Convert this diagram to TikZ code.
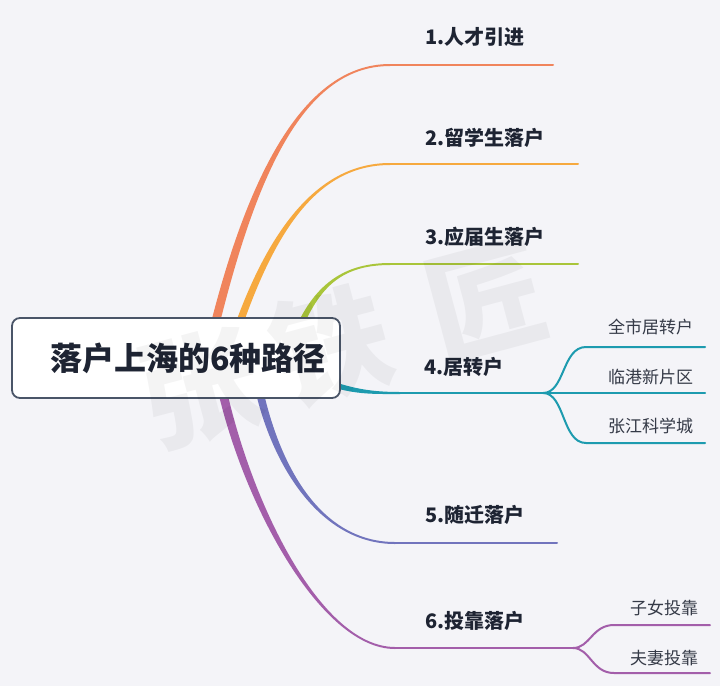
\documentclass[tikz,border=0pt]{standalone}
\usepackage{fontspec}
\setmainfont{Noto Sans CJK SC}
\usetikzlibrary{calc}

\definecolor{bgpaper}{HTML}{F4F4F8}
\definecolor{inkdark}{HTML}{1E2433}
\definecolor{boxline}{HTML}{4A5568}
\definecolor{cone}{HTML}{F0845C}
\definecolor{ctwo}{HTML}{F6A93F}
\definecolor{cthree}{HTML}{A9C53A}
\definecolor{cfour}{HTML}{1D9BAF}
\definecolor{cfive}{HTML}{7174BD}
\definecolor{csix}{HTML}{A35EAA}

% tapered limb: colour, start, control 1, control 2, knee, start half-width, knee half-width
\newcommand{\limb}[7]{%
  \fill[#1] ($#2+#6$) .. controls ($#3+#6$) and ($#4+#7$) .. ($#5+#7$)
    -- ($#5-#7$) .. controls ($#4-#7$) and ($#3-#6$) .. ($#2-#6$) -- cycle;}

\tikzset{
  rootbox/.style={draw=boxline, fill=white, line width=1.8pt, rounded corners=8pt,
    minimum width=328pt, minimum height=80pt, text=inkdark,
    font=\fontsize{32}{36}\selectfont\bfseries},
  toplabel/.style={anchor=west, inner sep=0pt, text=inkdark,
    font=\fontsize{20}{24}\selectfont\bfseries},
  sublabel/.style={anchor=west, inner sep=0pt, text=inkdark!90,
    font=\fontsize{17}{20}\selectfont},
  twig/.style={line width=2pt, line cap=round},
  stamp/.style={text=black, text opacity=0.045, rotate=15,
    font=\fontsize{118}{120}\selectfont\bfseries},
}

\begin{document}
\begin{tikzpicture}[x=1pt,y=-1pt]
  \fill[bgpaper] (0,0) rectangle (720,686);
  \useasboundingbox (0,0) rectangle (720,686);

  % knees and ends
  \coordinate (k1) at (390,65);  \coordinate (e1) at (553,65);
  \coordinate (k2) at (390,164); \coordinate (e2) at (578,164);
  \coordinate (k3) at (390,264); \coordinate (e3) at (578,264);
  \coordinate (k4) at (400,393); \coordinate (s4) at (543,393);
  \coordinate (k5) at (395,543); \coordinate (e5) at (557,543);
  \coordinate (k6) at (395,648); \coordinate (s6) at (573,648);

  % main limbs
  \limb{cone}{(210,345)}{(248,185)}{(300,65)}{(k1)}{(4.5,0)}{(0,1)}
  \limb{ctwo}{(232,345)}{(268,235)}{(315,164)}{(k2)}{(4,0)}{(0,1)}
  \limb{cthree}{(294,340)}{(314,288)}{(340,264)}{(k3)}{(3.5,0)}{(0,1)}
  \limb{cfour}{(320,380)}{(352,392)}{(372,393)}{(k4)}{(0,3)}{(0,1)}
  \limb{cfive}{(257,380)}{(274,465)}{(320,543)}{(k5)}{(4,0)}{(0,-1)}
  \limb{csix}{(220,380)}{(245,500)}{(320,648)}{(k6)}{(4.5,0)}{(0,-1)}

  \draw[twig,cone] (k1) -- (e1);
  \draw[twig,ctwo] (k2) -- (e2);
  \draw[twig,cthree] (k3) -- (e3);
  \draw[twig,cfour] (k4) -- (s4);
  \draw[twig,cfive] (k5) -- (e5);
  \draw[twig,csix] (k6) -- (s6);

  % level one labels
  \node[toplabel] (l1) at (425,37) {1.人才引进};
  \node[toplabel] (l2) at (425,138) {2.留学生落户};
  \node[toplabel] (l3) at (425,237) {3.应届生落户};
  \node[toplabel] (l4) at (424,367) {4.居转户};
  \node[toplabel] (l5) at (425,515) {5.随迁落户};
  \node[toplabel] (l6) at (425,621) {6.投靠落户};

  % sub branches of 4
  \node[sublabel] (m41) at (608,327) {全市居转户};
  \node[sublabel] (m42) at (608,377) {临港新片区};
  \node[sublabel] (m43) at (608,426) {张江科学城};
  \coordinate (f41) at (705,347);
  \coordinate (f42) at (705,393);
  \coordinate (f43) at (705,443);
  \draw[twig,cfour] (s4) .. controls (565,393) and (562,347) .. (586,347) -- (f41);
  \draw[twig,cfour] (s4) -- (f42);
  \draw[twig,cfour] (s4) .. controls (565,393) and (562,443) .. (586,443) -- (f43);

  % sub branches of 6
  \node[sublabel] (m61) at (630,608) {子女投靠};
  \node[sublabel] (m62) at (630,658) {夫妻投靠};
  \coordinate (f61) at (710,625);
  \coordinate (f62) at (710,673);
  \draw[twig,csix] (s6) .. controls (590,648) and (592,625) .. (614,625) -- (f61);
  \draw[twig,csix] (s6) .. controls (590,648) and (592,673) .. (614,673) -- (f62);

  % centre topic
  \node[rootbox] (root) at (176,358) {\hspace*{24pt}落户上海的6种路径};

  % watermark
  \node[stamp] (w1) at (200,388) {张};
  \node[stamp] (w2) at (331,345) {铁};
  \node[stamp] (w3) at (487,300) {匠};
\end{tikzpicture}
\end{document}
